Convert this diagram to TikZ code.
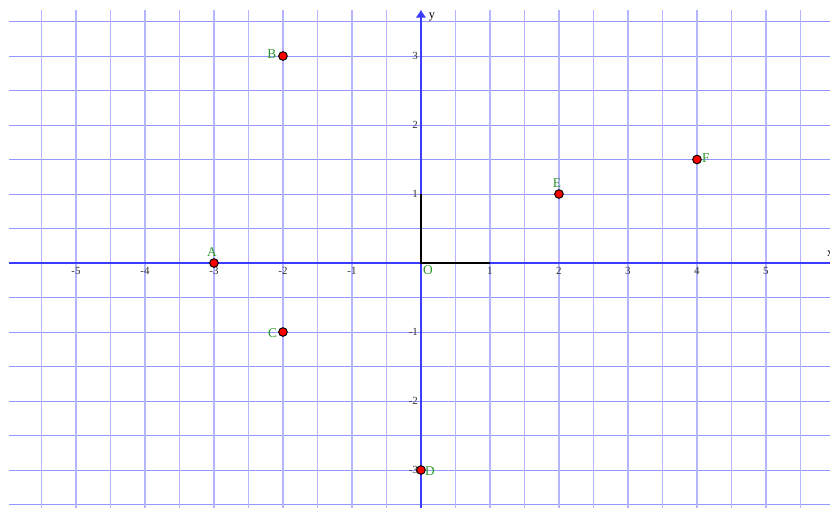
\documentclass[tikz,border=0pt]{standalone}
\usepackage{fontspec}
\setmainfont{Liberation Serif}
\usetikzlibrary{arrows.meta}
\definecolor{hgrid}{RGB}{150,150,255}
\definecolor{vgrid}{RGB}{180,180,255}
\definecolor{axisblue}{RGB}{60,60,255}
\definecolor{ptgreen}{RGB}{40,150,40}
\definecolor{ticktxt}{RGB}{50,50,50}
\tikzset{
  hline/.style={draw=hgrid, line width=0.4pt},
  vline/.style={draw=vgrid, line width=0.6pt},
  axisline/.style={draw=axisblue, line width=0.6pt},
  xtick/.style={font=\fontsize{4.5}{4.5}\selectfont, text=ticktxt, inner sep=0.5pt, anchor=north},
  ytick/.style={font=\fontsize{4.5}{4.5}\selectfont, text=ticktxt, inner sep=0.5pt, anchor=east},
  pt/.style={circle, fill=red, draw=black, line width=0.4pt, minimum size=0.125cm, inner sep=0pt},
  ptlabel/.style={font=\fontsize{5.5}{6}\selectfont, text=ptgreen, inner sep=0pt},
}
\begin{document}
\begin{tikzpicture}
\useasboundingbox (-6.101,-3.551) rectangle (5.928,3.812);
% grid
\foreach \y in {-3.5,-3,...,3.5} \draw[hline] (-5.97,\y) -- (5.928,\y);
\foreach \x in {-5.5,-5,...,5.5} \draw[vline] (\x,-3.551) -- (\x,3.667);
% axes
\draw[axisline] (-5.97,0) -- (5.928,0);
\draw[draw=axisblue, line width=1.2pt, -{Triangle[width=4pt,length=3pt]}] (0,-3.551) -- (0,3.66);
\node[font=\fontsize{5}{5}\selectfont, inner sep=0pt] (ylab) at (0.16,3.57) {y};
\node[font=\fontsize{5}{5}\selectfont, inner sep=0pt, anchor=west] (xlab) at (5.88,0.14) {x};
% tick labels
\foreach \x in {-5,-4,-3,-2,-1,1,2,3,4,5} \node[xtick] (xt\x) at (\x,-0.04) {\x};
\foreach \y in {-3,-2,-1,1,2,3} \node[ytick] (yt\y) at (-0.02,\y) {\y};
% black L
\coordinate (L1) at (0,1);
\coordinate (L0) at (0,0);
\coordinate (L2) at (1,0);
\draw[black, line width=1.2pt] (L1) -- (L0) -- (L2);
\node[ptlabel, font=\fontsize{5.5}{6}\selectfont] (O) at (0.1,-0.1) {O};
% points
\node[pt] (A) at (-3,0) {};
\node[pt] (B) at (-2,3) {};
\node[pt] (C) at (-2,-1) {};
\node[pt] (D) at (0,-3) {};
\node[pt] (E) at (2,1) {};
\node[pt] (F) at (4,1.5) {};
\node[ptlabel] (Al) at (-3.03,0.16) {A};
\node[ptlabel] (Bl) at (-2.16,3.03) {B};
\node[ptlabel] (Cl) at (-2.15,-1.02) {C};
\node[ptlabel] (Dl) at (0.13,-3.02) {D};
\node[ptlabel] (El) at (1.97,1.16) {E};
\node[ptlabel] (Fl) at (4.13,1.52) {F};
\end{tikzpicture}
\end{document}
